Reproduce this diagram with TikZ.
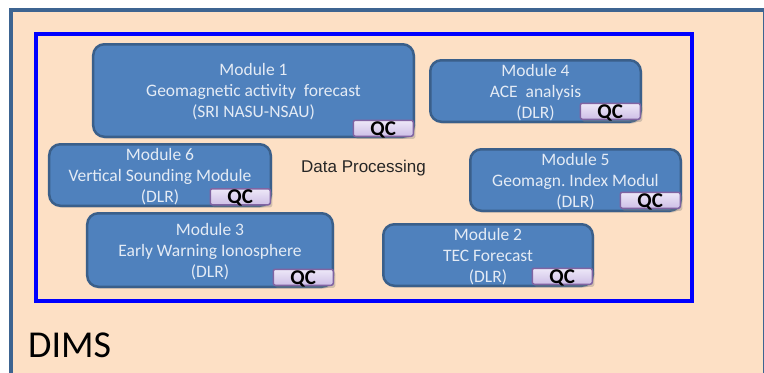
\documentclass[tikz,border=0pt]{standalone}
\usepackage{fontspec}
\setmainfont{Carlito}
\newfontfamily\arialfont{Liberation Sans}
\usetikzlibrary{shadows}
\definecolor{peach}{HTML}{FDE0C5}
\definecolor{frameblue}{HTML}{3D6491}
\definecolor{modfill}{HTML}{4F81BD}
\definecolor{moddraw}{HTML}{3A5F8A}
\definecolor{modtext}{HTML}{E4EBF5}
\definecolor{qctop}{HTML}{EEE8F8}
\definecolor{qcbot}{HTML}{CDBFE6}
\definecolor{qcdraw}{HTML}{8064A2}
\definecolor{dptext}{HTML}{262626}
\tikzset{
  module/.style={draw=moddraw, fill=modfill, line width=2.5bp, rounded corners=11bp,
    text=modtext, align=center, inner sep=0pt, text depth=0pt,
    font=\fontsize{17.5bp}{21bp}\selectfont,
    drop shadow={opacity=0.25, shadow xshift=1.5bp, shadow yshift=-2bp}},
  qc/.style={draw=qcdraw, line width=1.5bp, rounded corners=2bp,
    top color=qctop, bottom color=qcbot, text=black, inner sep=0pt,
    minimum width=60bp, minimum height=16bp, anchor=south east,
    text height=13.5bp, text depth=0bp,
    font=\fontsize{21bp}{21bp}\selectfont\bfseries,
    drop shadow={opacity=0.35, shadow xshift=2bp, shadow yshift=-2.5bp}},
}
\begin{document}
\frenchspacing
\begin{tikzpicture}[x=1bp, y=-1bp]
\useasboundingbox (0,0) rectangle (764,372);
\clip (0,0) rectangle (764,372);
% DIMS frame
\draw[frameblue, line width=4bp, fill=peach] (10.5,10) rectangle (764.5,390);
% data processing area
\node[draw=blue, line width=4bp, minimum width=655bp, minimum height=267bp, inner sep=0pt]
  (dp) at (364,167.5) {};
\node[font=\arialfont\fontsize{17bp}{20bp}\selectfont, text=dptext] (dplabel) at (363.5,168) {Data Processing};
% modules
\node[module, minimum width=320.5bp, minimum height=92.5bp] (m1) at (253.5,90.5)
  {Module 1\\Geomagnetic activity\ \ forecast\\(SRI NASU-NSAU)};
\node[module, minimum width=210.5bp, minimum height=61.5bp] (m4) at (535.5,91)
  {Module 4\\ACE\ \ analysis\\(DLR)};
\node[module, minimum width=221.5bp, minimum height=61.5bp] (m6) at (160,175)
  {Module 6\\Vertical Sounding Module\\(DLR)};
\node[module, minimum width=210.5bp, minimum height=61.5bp] (m5) at (575.5,180)
  {Module 5\\Geomagn. Index Modul\\(DLR)};
\node[module, minimum width=245.5bp, minimum height=73.5bp] (m3) at (210,250)
  {Module 3\\Early Warning Ionosphere\\(DLR)};
\node[module, minimum width=209.5bp, minimum height=61.5bp] (m2) at (488,255)
  {Module 2\\TEC Forecast\\(DLR)};
% quality-control tags
\node[qc] (qc1) at ([xshift=-1bp,yshift=1bp]m1.south east) {QC};
\node[qc] (qc4) at ([xshift=-1bp,yshift=3bp]m4.south east) {QC};
\node[qc] (qc6) at ([xshift=-1bp,yshift=1.5bp]m6.south east) {QC};
\node[qc] (qc5) at ([xshift=-1bp,yshift=3bp]m5.south east) {QC};
\node[qc] (qc3) at ([xshift=0bp,yshift=2bp]m3.south east) {QC};
\node[qc] (qc2) at ([xshift=-1bp,yshift=2bp]m2.south east) {QC};
% system label
\node[anchor=base west, inner sep=0pt, font=\fontsize{38bp}{40bp}\selectfont] (dims) at (28,357) {DIMS};
\end{tikzpicture}
\end{document}
